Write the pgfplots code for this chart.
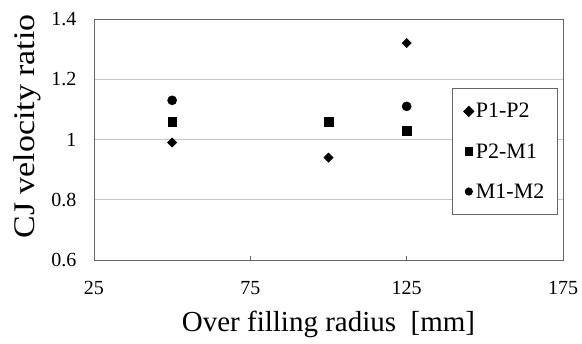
\documentclass[border=0pt]{standalone}
\usepackage{fontspec}
\setmainfont{Liberation Serif}
\usepackage{pgfplots}
\pgfplotsset{compat=1.18}
\begin{document}
\begin{tikzpicture}
\useasboundingbox (-94pt,-84pt) rectangle (488pt,260pt);
\begin{axis}[
  at={(0pt,0pt)}, anchor=south west,
  scale only axis, width=469pt, height=241pt,
  xmin=25, xmax=175, ymin=0.6, ymax=1.4,
  xtick={25,75,125,175}, ytick={0.6,0.8,1,1.2,1.4},
  yticklabels={0.6,0.8,1,1.2,1.4},
  xticklabels={25,75,125,175},
  ymajorgrids, grid style={gray!45, line width=0.8pt},
  axis line style={gray!80!black, line width=0.9pt},
  major tick length=4pt,
  ytick style={draw=none},
  xtick style={gray!80!black, line width=0.8pt},
  xtick pos=bottom, xtick align=inside,
  tick label style={font=\fontsize{20}{22}\selectfont},
  yticklabel style={xshift=-14pt},
  xticklabel style={yshift=-18pt},
  xlabel={Over filling radius\ \ [mm]},
  ylabel={\scalebox{1.13}[1]{CJ velocity ratio}},
  xlabel style={font=\fontsize{29}{32}\selectfont, at={(axis description cs:0.5,0)}, anchor=center, yshift=-64pt},
  ylabel style={font=\fontsize{30}{32}\selectfont, at={(axis description cs:0,0.554)}, anchor=center, yshift=67pt},
  legend style={at={(rel axis cs:0.989,0.714)}, anchor=north east,
    draw=gray!80!black, line width=0.9pt, font=\fontsize{22}{24}\selectfont,
    row sep=20pt, inner xsep=11pt, inner ysep=13pt},
  legend cell align=left,
  legend image code/.code={\path (0pt,0pt) -- (8pt,0pt); \path[#1, mark size=3.6pt] plot coordinates {(4pt,0pt)};},
]
\addplot[only marks, mark=square*, mark options={rotate=45}, mark size=3.3pt, black] coordinates {(50,0.99) (100,0.94) (125,1.32)};
\addlegendentry{P1-P2}
\addplot[only marks, mark=square*, mark size=4.4pt, black] coordinates {(50,1.06) (100,1.06) (125,1.03)};
\addlegendentry{P2-M1}
\addplot[only marks, mark=*, mark size=4.6pt, black] coordinates {(50,1.13) (125,1.11)};
\addlegendentry{M1-M2}
\end{axis}
\end{tikzpicture}
\end{document}
